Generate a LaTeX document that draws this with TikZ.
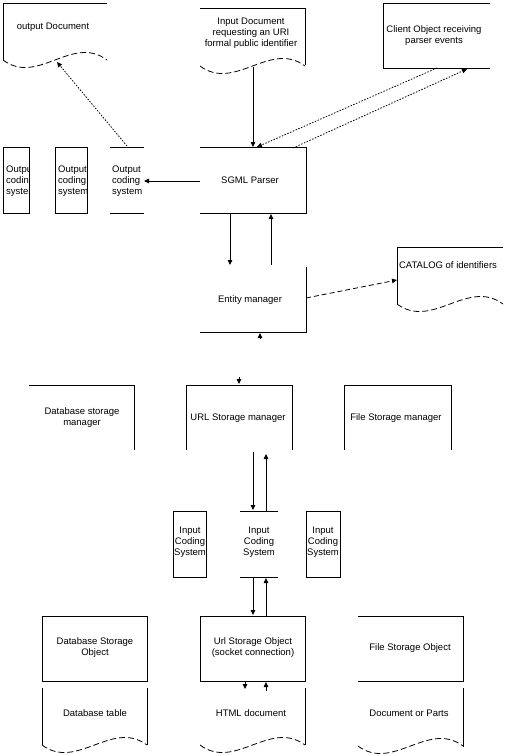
\documentclass[tikz,border=0pt]{standalone}
\usepackage{fontspec}
\setmainfont{Liberation Sans}
\usetikzlibrary{arrows.meta}
\newcommand\docwave[3]{\draw[wave] (#1,#3) .. controls ({#1+(#2-#1)/3},{#3+26}) and ({#1+2*(#2-#1)/3},{#3-26}) .. (#2,#3);}
\begin{document}
\begin{tikzpicture}[x=1pt,y=-1pt,
  edge/.style={line width=0.8pt},
  wave/.style={line width=0.8pt,dash pattern=on 6pt off 3pt},
  txt/.style={font=\fontsize{9.5}{11}\selectfont,align=center,inner sep=0pt},
  ltxt/.style={font=\fontsize{9.5}{11}\selectfont,align=left,inner sep=0pt,anchor=west},
  arr/.style={line width=0.8pt,-{Triangle[length=5pt,width=4.5pt]}},
  dotarr/.style={arr,dash pattern=on 1.5pt off 1.5pt},
  dasharr/.style={arr,dash pattern=on 5pt off 3pt},
]
\useasboundingbox (0,0) rectangle (505,756);

% ---------- Output Document ----------
\draw[edge] (3,60) -- (3,3) -- (107,3);
\docwave{3}{107}{60}
\node[txt] (od) at (53,27) {output Document};

% ---------- Input Document ----------
\draw[edge] (200,8) -- (305,8) -- (305,65);
\docwave{200}{305}{66}
\node[txt] (id) at (251,33) {Input Document\\requesting an URI\\formal public identifier};

% ---------- Client Object ----------
\draw[edge] (490,3) -- (383,3) -- (383,68) -- (490,68);
\node[txt] (client) at (434,36) {Client Object receiving\\parser events};

% ---------- SGML Parser ----------
\draw[edge] (200,147) -- (306,147) -- (306,213) -- (200,213);
\node[txt] (sgml) at (250,180) {SGML Parser};

% ---------- Output coding systems ----------
\draw[edge] (3,147) rectangle (29,213);
\begin{scope}
  \clip (3,147) rectangle (29,213);
  \node[ltxt] (ocs1) at (6,181) {Output\\coding\\system};
\end{scope}
\draw[edge] (55,147) rectangle (87,213);
\node[ltxt] (ocs2) at (58,181) {Output\\coding\\system};
\draw[edge] (110,147) -- (144,147);
\draw[edge] (110,213) -- (144,213);
\node[ltxt] (ocs3) at (112,181) {Output\\coding\\system};

% ---------- Entity manager ----------
\draw[edge] (306,267) -- (306,332) -- (200,332);
\node[txt] (entity) at (250,300) {Entity manager};

% ---------- CATALOG ----------
\draw[edge] (397,305) -- (397,247) -- (503,247);
\docwave{397}{503}{304}
\node[txt] (catalog) at (448,265) {CATALOG of identifiers};

% ---------- Storage managers ----------
\draw[edge] (29,385) -- (134,385) -- (134,450);
\node[txt] (dbm) at (82,418) {Database storage\\manager};
\draw[edge] (186,450) -- (186,385) -- (292,385) -- (292,450);
\node[txt] (urlm) at (238,418) {URL Storage manager};
\draw[edge] (344,450) -- (344,385) -- (451,385) -- (451,450);
\node[txt] (filem) at (396,418) {File Storage manager};

% ---------- Input coding systems ----------
\draw[edge] (173,511) rectangle (206,577);
\node[txt] (ics1) at (190,542) {Input\\Coding\\System};
\draw[edge] (240,511) -- (278,511);
\draw[edge] (240,577) -- (278,577);
\node[txt] (ics2) at (259,542) {Input\\Coding\\System};
\draw[edge] (306,511) rectangle (340,577);
\node[txt] (ics3) at (323,542) {Input\\Coding\\System};

% ---------- Storage objects ----------
\draw[edge] (42,616) rectangle (147,681);
\node[txt] (dbo) at (95,648) {Database Storage\\Object};
\draw[edge] (200,616) rectangle (305,681);
\node[txt] (urlo) at (253,648) {Url Storage Object\\(socket connection)};
\draw[edge] (358,616) -- (463,616) -- (463,681) -- (358,681);
\node[txt] (fileo) at (410,648) {File Storage Object};

% ---------- Bottom documents ----------
\draw[edge] (42,745) -- (42,688);
\draw[edge] (147,688) -- (147,745);
\docwave{42}{147}{745}
\node[txt] (dbt) at (95,713) {Database table};
\draw[edge] (305,688) -- (305,745);
\docwave{200}{305}{745}
\node[txt] (html) at (251,713) {HTML document};
\draw[edge] (463,688) -- (463,747);
\docwave{358}{463}{746}
\node[txt] (docp) at (409,713) {Document or Parts};

% ---------- connector end points ----------
\coordinate (id-b) at (253,67);
\coordinate (sgml-t) at (253,147);
\coordinate (client-b1) at (437,68);
\coordinate (sgml-t1) at (257,147);
\coordinate (sgml-t2) at (293,148);
\coordinate (client-b2) at (467,69);
\coordinate (ocs3-t) at (127,146);
\coordinate (od-b) at (57,62);
\coordinate (sgml-l) at (200,181);
\coordinate (ocs3-r) at (144,181);
\coordinate (sgml-b1) at (230,213);
\coordinate (entity-t1) at (230,265);
\coordinate (entity-t2) at (271,265);
\coordinate (sgml-b2) at (271,214);
\coordinate (entity-r) at (306,298);
\coordinate (catalog-l) at (397,280);
\coordinate (entity-s) at (260,339);
\coordinate (entity-b) at (260,333);
\coordinate (urlm-s) at (239,377);
\coordinate (urlm-t) at (239,384);
\coordinate (urlm-b1) at (253,452);
\coordinate (ics2-t1) at (253,510);
\coordinate (ics2-t2) at (266,511);
\coordinate (urlm-b2) at (266,454);
\coordinate (ics2-b1) at (253,577);
\coordinate (urlo-t1) at (253,615);
\coordinate (urlo-t2) at (266,616);
\coordinate (ics2-b2) at (266,578);
\coordinate (urlo-b1) at (245,681);
\coordinate (html-t1) at (245,689);
\coordinate (html-t2) at (266,691);
\coordinate (urlo-b2) at (266,682);

% ---------- connectors ----------
\draw[arr] (id-b) -- (sgml-t);
\draw[dotarr] (client-b1) -- (sgml-t1);
\draw[dotarr] (sgml-t2) -- (client-b2);
\draw[dotarr] (ocs3-t) -- (od-b);
\draw[arr] (sgml-l) -- (ocs3-r);
\draw[arr] (sgml-b1) -- (entity-t1);
\draw[arr] (entity-t2) -- (sgml-b2);
\draw[dasharr] (entity-r) -- (catalog-l);
\draw[arr] (entity-s) -- (entity-b);
\draw[arr] (urlm-s) -- (urlm-t);
\draw[arr] (urlm-b1) -- (ics2-t1);
\draw[arr] (ics2-t2) -- (urlm-b2);
\draw[arr] (ics2-b1) -- (urlo-t1);
\draw[arr] (urlo-t2) -- (ics2-b2);
\draw[arr] (urlo-b1) -- (html-t1);
\draw[arr] (html-t2) -- (urlo-b2);
\end{tikzpicture}
\end{document}
